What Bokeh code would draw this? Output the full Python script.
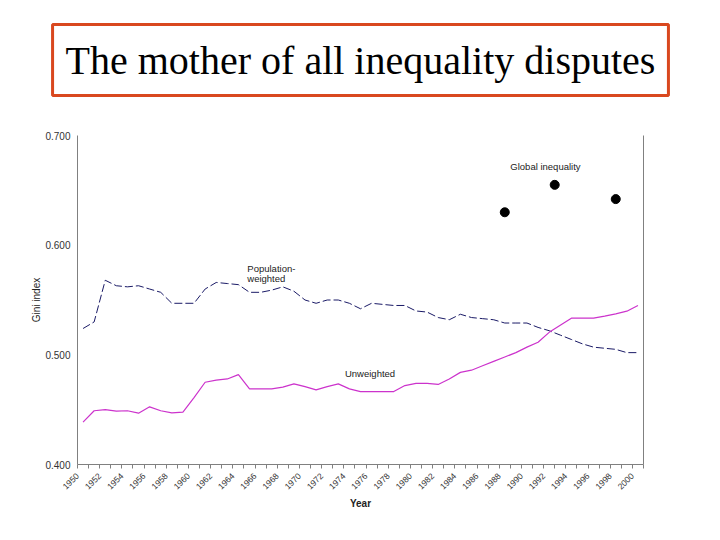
import math
from bokeh.plotting import figure
from bokeh.models import Range1d, FixedTicker, NumeralTickFormatter, LinearAxis, Label, Title
from bokeh.embed import file_html
from bokeh.resources import INLINE

years = list(range(1950, 2001))

pop_weighted = [
    0.524, 0.530, 0.568, 0.563, 0.562, 0.563, 0.560, 0.557, 0.547, 0.547,
    0.547, 0.560, 0.566, 0.565, 0.564, 0.557, 0.557, 0.559, 0.562, 0.558,
    0.550, 0.547, 0.550, 0.550, 0.547, 0.542, 0.547, 0.546, 0.545, 0.545,
    0.540, 0.539, 0.534, 0.532, 0.537, 0.534, 0.533, 0.532, 0.529, 0.529,
    0.529, 0.525, 0.522, 0.518, 0.514, 0.510, 0.507, 0.506, 0.505, 0.502,
    0.502,
]

unweighted = [
    0.4386, 0.449, 0.450, 0.4486, 0.449, 0.4468, 0.4526, 0.449, 0.447, 0.4477,
    0.461, 0.475, 0.477, 0.478, 0.482, 0.469, 0.469, 0.469, 0.4705, 0.4735,
    0.471, 0.468, 0.471, 0.4735, 0.469, 0.4665, 0.4665, 0.4665, 0.4665, 0.472,
    0.474, 0.474, 0.473, 0.478, 0.484, 0.486, 0.490, 0.494, 0.498, 0.502,
    0.507, 0.5115, 0.5205, 0.527, 0.5334, 0.5334, 0.5334, 0.5353, 0.5374, 0.5398,
    0.545,
]

global_years = [1988, 1992.5, 1998]
global_gini = [0.630, 0.655, 0.642]

y_ticks = [0.4, 0.5, 0.6, 0.7]
x_label_years = years[::2]

TITLE = "The mother of all inequality disputes"

p = figure(width=718, height=538, x_range=Range1d(1949.5, 2000.5), y_range=Range1d(0.4, 0.7),
           min_border_left=77, min_border_right=75, min_border_top=135, min_border_bottom=74,
           output_backend="svg", toolbar_location=None, title=TITLE)
p.grid.visible = False
p.outline_line_color = None

# boxed slide title
tt = p.title
tt.align = "center"
tt.vertical_align = "top"
tt.text_font = "Liberation Serif"
tt.text_font_size = "40px"
tt.text_font_style = "normal"
tt.text_color = "black"
tt.standoff = 40
tt.border_line_color = "#D9481F"
tt.border_line_width = 3
tt.background_fill_color = "white"
try:
    tt.padding = 13
except Exception:
    pass

# blank spacer between the plot area and the boxed title
p.add_layout(Title(text=" ", text_font_size="1px", standoff=15), "above")

ax = p.xaxis[0]
# labels sit slightly left of each category centre, as in the original
ax.ticker = FixedTicker(ticks=[y - 0.5 for y in x_label_years],
                        minor_ticks=[y - 0.5 for y in years] + [2000.5])
ax.major_label_overrides = {y - 0.5: str(y) for y in x_label_years}
ax.major_tick_out = 0
ax.major_tick_in = 0
ax.minor_tick_out = 4
ax.minor_tick_in = 0
ax.minor_tick_line_color = "#808080"
ax.axis_line_color = "#808080"
ax.major_label_orientation = math.pi / 4
ax.major_label_text_font = "Liberation Sans"
ax.major_label_text_font_size = "8.5px"
ax.major_label_text_color = "#333333"
ax.major_label_standoff = 6
ax.axis_label = "Year"
ax.axis_label_text_font = "Liberation Sans"
ax.axis_label_text_font_style = "bold"
ax.axis_label_text_font_size = "10px"
ax.axis_label_text_color = "#222222"
ax.axis_label_standoff = 3

ay = p.yaxis[0]
ay.ticker = FixedTicker(ticks=y_ticks)
ay.formatter = NumeralTickFormatter(format="0.000")
ay.major_tick_out = 0
ay.major_tick_in = 0
ay.minor_tick_out = 0
ay.minor_tick_in = 0
ay.axis_line_color = "#808080"
ay.major_label_text_font = "Liberation Sans"
ay.major_label_text_font_size = "10px"
ay.major_label_text_color = "#333333"
ay.major_label_standoff = 7
ay.axis_label = "Gini index"
ay.axis_label_text_font = "Liberation Sans"
ay.axis_label_text_font_style = "normal"
ay.axis_label_text_font_size = "10px"
ay.axis_label_text_color = "#222222"
ay.axis_label_standoff = 0

ar = LinearAxis(ticker=FixedTicker(ticks=[]), major_tick_out=0, major_tick_in=0,
                minor_tick_out=0, minor_tick_in=0, major_label_text_font_size="0px",
                axis_line_color="#808080")
p.add_layout(ar, "right")

p.line(years, pop_weighted, line_color="#1a1a66", line_width=1, line_dash="8 3")
p.line(years, unweighted, line_color="#cc33cc", line_width=1.2)
p.scatter(global_years, global_gini, size=9, color="black")

lab_style = dict(text_font="Liberation Sans", text_font_size="9.5px", text_color="#222222",
                 text_baseline="middle", text_align="left")
p.add_layout(Label(x=1964.8, y=0.5787, text="Population-", **lab_style))
p.add_layout(Label(x=1964.8, y=0.5696, text="weighted", **lab_style))
p.add_layout(Label(x=1973.6, y=0.483, text="Unweighted", **lab_style))
p.add_layout(Label(x=1988.5, y=0.6717, text="Global inequality", **lab_style))

open("out.html", "w").write(file_html(p, INLINE))
